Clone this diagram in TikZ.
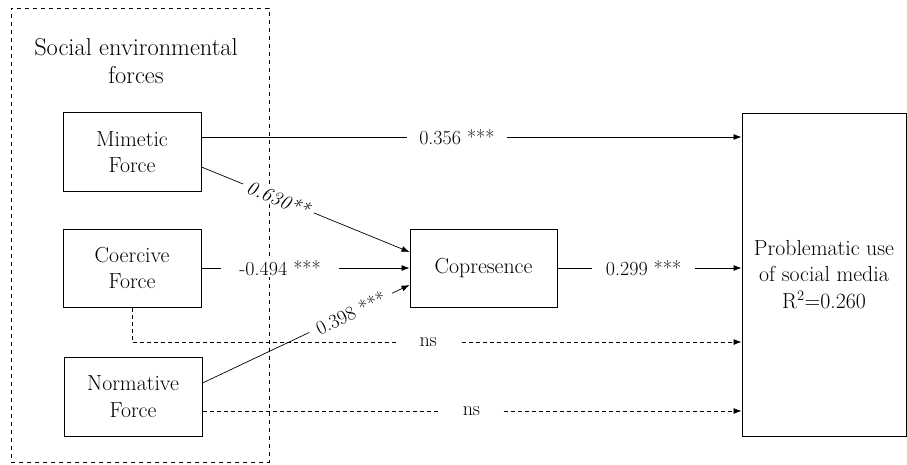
\documentclass[tikz,border=0pt]{standalone}
\usetikzlibrary{arrows.meta}
\begin{document}
\begin{tikzpicture}[x=1pt,y=-1pt,
 box/.style={draw,line width=1pt,align=center,inner sep=0pt,font=\fontsize{21.8}{26.5}\selectfont},
 arr/.style={line width=0.7pt,-{Latex[length=8pt,width=6pt]}},
 dsh/.style={dash pattern=on 4pt off 3pt},
 lab/.style={fill=white,inner ysep=1pt,inner xsep=12pt,font=\fontsize{20}{22}\selectfont}]
\useasboundingbox (0,0) rectangle (907,464);
% group
\node[draw,dash pattern=on 4pt off 4pt,line width=0.8pt,minimum width=258pt,minimum height=454pt,inner sep=0pt] (grp) at (140,235) {};
\node[align=center,font=\fontsize{24.4}{28}\selectfont] (title) at (136,61) {Social environmental\\forces};
% nodes
\node[box,minimum width=138pt,minimum height=79pt] (mim) at (132,152) {Mimetic\\Force};
\node[box,minimum width=138pt,minimum height=78pt] (coe) at (132,268) {Coercive\\Force};
\node[box,minimum width=138pt,minimum height=79pt] (nor) at (133,396.5) {Normative\\Force};
\node[box,minimum width=147pt,minimum height=78pt] (cop) at (483.5,268) {Copresence};
\node[box,minimum width=164pt,minimum height=323pt] (pb) at (824,274.5) {Problematic use\\of social media\\R$^2$=0.260};
% connectors
\draw[arr] (mim.east |- 0,137) -- (pb.west |- 0,137)
  node[lab,pos=0.473] {0.356 ***};
\draw[arr] (mim.east |- 0,167) -- (cop.west |- 0,252)
  node[lab,pos=0.37,sloped,inner xsep=5pt,font=\fontsize{20}{22}\selectfont\itshape] {0.630**};
\draw[arr] (coe.east) -- (cop.west)
  node[lab,pos=0.378,inner xsep=18pt] {-0.494 ***};
\draw[arr] (nor.east |- 0,383) -- (cop.west |- 0,285)
  node[lab,pos=0.716,sloped,inner xsep=8pt] {0.398 ***};
\draw[arr] (cop.east) -- (pb.west |- cop.east)
  node[lab,pos=0.468,inner xsep=14pt] {0.299 ***};
\draw[arr,dsh] (coe.south) |- (pb.west |- 0,342)
  node[lab,pos=0.743,inner xsep=22pt] {ns};
\draw[arr,dsh] (nor.east |- 0,411) -- (pb.west |- 0,411)
  node[lab,pos=0.499,inner xsep=23pt] {ns};
\end{tikzpicture}
\end{document}
